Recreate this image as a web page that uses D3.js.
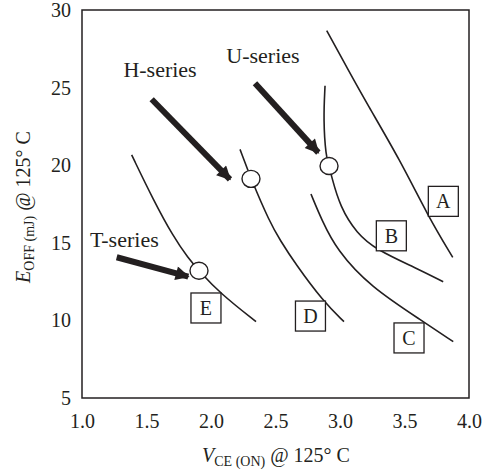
<!DOCTYPE html>
<html>
<head>
<meta charset="utf-8">
<script src="https://cdn.jsdelivr.net/npm/d3@7/dist/d3.min.js"></script>
<style>
  html, body { margin: 0; padding: 0; background: #fff; }
  svg { display: block; }
  text { font-family: "Liberation Serif", "Times New Roman", serif; fill: #231f20; }
</style>
</head>
<body>
<svg id="chart" width="484" height="471"></svg>
<script>
// Turn-off energy vs. on-state voltage, 125 °C
const xTicks = [1.0, 1.5, 2.0, 2.5, 3.0, 3.5, 4.0];
const yTicks = [5, 10, 15, 20, 25, 30];

const curveA_x = [2.897, 3.057, 3.207, 3.465, 3.685, 3.874];
const curveA_y = [28.67, 26.24, 23.99, 20.34, 16.68, 14.06];

const curveB_x = [2.884, 2.871, 2.891, 2.915, 2.935, 3.0, 3.129, 3.284, 3.594, 3.80];
const curveB_y = [25.12, 22.91, 20.55, 19.95, 19.26, 17.33, 15.61, 14.54, 13.36, 12.49];

const curveC_x = [2.775, 2.858, 2.974, 3.233, 3.646, 3.878];
const curveC_y = [18.14, 16.47, 14.54, 12.17, 9.92, 8.63];

const curveD_x = [2.225, 2.31, 2.457, 2.535, 2.651, 2.871, 3.031];
const curveD_y = [21.02, 19.12, 16.30, 15.18, 13.68, 11.21, 9.92];

const curveE_x = [1.385, 1.553, 1.708, 1.824, 1.907, 2.07, 2.349];
const curveE_y = [20.66, 17.76, 15.39, 14.0, 13.2, 11.75, 9.92];

const curveNames = ["A", "B", "C", "D", "E"];
const curveLabelX = [3.801, 3.398, 3.535, 2.771, 1.961];
const curveLabelY = [17.67, 15.45, 8.87, 10.28, 10.80];

// Series markers: T-, H-, U-series operating points
const seriesNames = ["T-series", "H-series", "U-series"];
const markerX = [1.907, 2.31, 2.915];
const markerY = [13.2, 19.12, 19.95];
const seriesLabelX = [1.328, 1.605, 2.403];
const seriesLabelY = [14.70, 25.70, 26.60];
const arrowFromX = [1.269, 1.540, 2.341];
const arrowFromY = [14.07, 24.25, 25.28];
const arrowToX = [1.824, 2.147, 2.832];
const arrowToY = [12.82, 19.09, 20.81];

const svg = d3.select("#chart");
const plotLeft = 82, plotRight = 469, plotTop = 10, plotBottom = 398;

const x = d3.scaleLinear().domain([1.0, 4.0]).range([plotLeft, plotRight]);
const y = d3.scaleLinear().domain([5, 30]).range([plotBottom, plotTop]);

const ink = "#231f20";

// Arrowhead
svg.append("defs").append("marker")
  .attr("id", "head")
  .attr("viewBox", "0 0 10 10")
  .attr("refX", 9).attr("refY", 5)
  .attr("markerUnits", "userSpaceOnUse")
  .attr("markerWidth", 17).attr("markerHeight", 14)
  .attr("orient", "auto")
  .append("path").attr("d", "M0,0 L10,5 L0,10 Z").attr("fill", ink);

// Frame
svg.append("rect")
  .attr("x", plotLeft).attr("y", plotTop)
  .attr("width", plotRight - plotLeft).attr("height", plotBottom - plotTop)
  .attr("fill", "none").attr("stroke", ink).attr("stroke-width", 1.5);

// Axes (labels only, no tick marks)
const xAxis = d3.axisBottom(x).tickValues(xTicks).tickFormat(d3.format(".1f")).tickSize(0).tickPadding(16);
const gx = svg.append("g").attr("transform", `translate(0,${plotBottom})`).call(xAxis);
gx.select(".domain").remove();
gx.selectAll("text").attr("font-size", 20).attr("font-family", "Liberation Serif").attr("fill", ink);

const yAxis = d3.axisLeft(y).tickValues(yTicks).tickFormat(d3.format("d")).tickSize(0).tickPadding(11);
const gy = svg.append("g").attr("transform", `translate(${plotLeft},0)`).call(yAxis);
gy.select(".domain").remove();
gy.selectAll("text").attr("font-size", 20).attr("font-family", "Liberation Serif").attr("fill", ink);

// Curves
const curves = [
  [curveA_x, curveA_y], [curveB_x, curveB_y], [curveC_x, curveC_y],
  [curveD_x, curveD_y], [curveE_x, curveE_y]
];
const line = d3.line().x(d => x(d[0])).y(d => y(d[1])).curve(d3.curveBasis);
svg.append("g").selectAll("path")
  .data(curves.map(([xs, ys]) => xs.map((v, i) => [v, ys[i]])))
  .join("path")
  .attr("d", line)
  .attr("fill", "none").attr("stroke", ink).attr("stroke-width", 1.6);

// Curve labels in boxes
const boxes = svg.append("g").selectAll("g")
  .data(curveNames.map((n, i) => ({ n, cx: curveLabelX[i], cy: curveLabelY[i] })))
  .join("g")
  .attr("transform", d => `translate(${x(d.cx)},${y(d.cy)})`);
boxes.append("rect")
  .attr("x", -15).attr("y", -15).attr("width", 30).attr("height", 30)
  .attr("fill", "#fff").attr("stroke", ink).attr("stroke-width", 1.3);
boxes.append("text")
  .attr("text-anchor", "middle").attr("dy", "0.35em")
  .attr("font-size", 20)
  .text(d => d.n);

// Arrows
svg.append("g").selectAll("line")
  .data(seriesNames.map((n, i) => i))
  .join("line")
  .attr("x1", i => x(arrowFromX[i])).attr("y1", i => y(arrowFromY[i]))
  .attr("x2", i => x(arrowToX[i])).attr("y2", i => y(arrowToY[i]))
  .attr("stroke", ink).attr("stroke-width", 6)
  .attr("marker-end", "url(#head)");

// Series labels
svg.append("g").selectAll("text")
  .data(seriesNames.map((n, i) => ({ n, lx: seriesLabelX[i], ly: seriesLabelY[i] })))
  .join("text")
  .attr("x", d => x(d.lx)).attr("y", d => y(d.ly))
  .attr("text-anchor", "middle")
  .attr("font-size", 22)
  .text(d => d.n);

// Operating-point markers
svg.append("g").selectAll("ellipse")
  .data(markerX.map((v, i) => [v, markerY[i]]))
  .join("ellipse")
  .attr("cx", d => x(d[0])).attr("cy", d => y(d[1]))
  .attr("rx", 9).attr("ry", 8.5)
  .attr("fill", "#fff").attr("stroke", ink).attr("stroke-width", 1.4);

// Axis titles
const xt = svg.append("text").attr("x", 276).attr("y", 462).attr("text-anchor", "middle").attr("font-size", 20);
xt.append("tspan").attr("font-style", "italic").text("V");
xt.append("tspan").attr("font-size", 14).attr("dy", 4).text("CE (ON)");
xt.append("tspan").attr("dy", -4).text(" @ 125° C");

const yt = svg.append("text").attr("transform", "translate(30,207) rotate(-90)").attr("text-anchor", "middle").attr("font-size", 20);
yt.append("tspan").attr("font-style", "italic").text("E");
yt.append("tspan").attr("font-size", 14).attr("dy", 4).text("OFF (mJ)");
yt.append("tspan").attr("dy", -4).text(" @ 125° C");
</script>
</body>
</html>
